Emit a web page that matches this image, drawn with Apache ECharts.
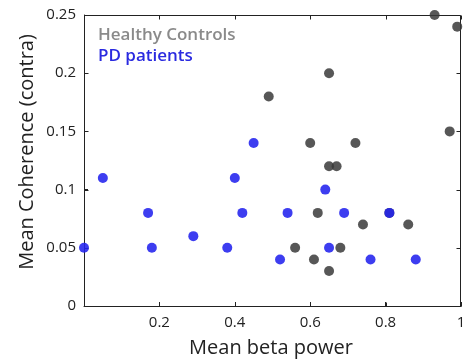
<!DOCTYPE html>
<html><head><meta charset="utf-8">
<script src="https://cdn.jsdelivr.net/npm/echarts@6/dist/echarts.min.js"></script>
<style>html,body{margin:0;padding:0;background:#fff}#c{width:463px;height:362px}</style>
</head><body><div id="c"></div>
<script>
const xTicks = [0.2, 0.4, 0.6, 0.8, 1];
const yTicks = [0, 0.05, 0.1, 0.15, 0.2, 0.25];
const hcBeta = [0.49, 0.65, 0.93, 0.99, 0.97, 0.60, 0.72, 0.65, 0.67, 0.62, 0.74, 0.86, 0.81, 0.56, 0.68, 0.61, 0.65];
const hcCoh  = [0.18, 0.20, 0.25, 0.24, 0.15, 0.14, 0.14, 0.12, 0.12, 0.08, 0.07, 0.07, 0.08, 0.05, 0.05, 0.04, 0.03];
const pdBeta = [0.00, 0.05, 0.17, 0.18, 0.29, 0.38, 0.40, 0.42, 0.45, 0.52, 0.54, 0.64, 0.65, 0.69, 0.76, 0.81, 0.88];
const pdCoh  = [0.05, 0.11, 0.08, 0.05, 0.06, 0.05, 0.11, 0.08, 0.14, 0.04, 0.08, 0.10, 0.05, 0.08, 0.04, 0.08, 0.04];
const seriesNames = ['Healthy Controls', 'PD patients'];
const xTitle = 'Mean beta power';
const yTitle = 'Mean Coherence (contra)';

const zip = (a, b) => a.map((v, i) => [v, b[i]]);
const font = '"Open Sans", "DejaVu Sans", sans-serif';
const xMin = 0, xMax = 1, yMin = 0, yMax = 0.25;
const axLine = {show: true, onZero: false, lineStyle: {color: '#222', width: 1}};
const ticks = {show: true, inside: true, length: 4, lineStyle: {color: '#222', width: 1}};

// Frame (box) and inward ticks on all four sides, positioned through the axes' scales
function renderFrame(params, api) {
  const bl = api.coord([xMin, yMin]), tr = api.coord([xMax, yMax]);
  const L = Math.round(bl[0]) + 0.5, B = Math.round(bl[1]) + 0.5;
  const R = Math.round(tr[0]) - 0.5, T = Math.round(tr[1]) + 0.5;
  const st = {stroke: '#222', lineWidth: 1, fill: null};
  const kids = [{type: 'polyline', shape: {points: [[L, B], [L, T], [R, T], [R, B], [L, B]]}, style: st}];
  xTicks.forEach(v => {
    const x = Math.round(api.coord([v, yMin])[0]) + 0.5;
    kids.push({type: 'line', shape: {x1: x, y1: B, x2: x, y2: B - 4}, style: st});
    kids.push({type: 'line', shape: {x1: x, y1: T, x2: x, y2: T + 4}, style: st});
  });
  yTicks.forEach(v => {
    const y = Math.round(api.coord([xMin, v])[1]) + 0.5;
    kids.push({type: 'line', shape: {x1: L, y1: y, x2: L + 4, y2: y}, style: st});
    kids.push({type: 'line', shape: {x1: R, y1: y, x2: R - 4, y2: y}, style: st});
  });
  return {type: 'group', children: kids};
}

const chart = echarts.init(document.getElementById('c'));
chart.setOption({
  animation: false,
  grid: {left: 84, right: 2, top: 15, bottom: 56, outerBoundsMode: 'none', containLabel: false},
  xAxis: {
    type: 'value', min: xMin, max: xMax, interval: 0.2,
    axisLine: axLine, axisTick: ticks, splitLine: {show: false},
    axisLabel: {color: '#222', fontSize: 15, fontFamily: font, margin: 9, hideOverlap: false,
      formatter: v => xTicks.includes(Math.round(v * 10) / 10) ? String(Math.round(v * 10) / 10) : ''}
  },
  yAxis: {
    type: 'value', min: yMin, max: yMax, interval: 0.05,
    axisLine: axLine, axisTick: ticks, splitLine: {show: false},
    axisLabel: {color: '#222', fontSize: 15, fontFamily: font, margin: 8,
      formatter: v => String(+v.toFixed(2))}
  },
  series: [{
    type: 'custom', silent: true, z: 1, clip: false,
    renderItem: renderFrame, data: [[xMin, yMin]]
  }, {
    name: seriesNames[0], type: 'scatter', symbolSize: 10, clip: false, z: 3,
    itemStyle: {color: '#3a3a3a', opacity: 0.85},
    data: zip(hcBeta, hcCoh)
  }, {
    name: seriesNames[1], type: 'scatter', symbolSize: 10, clip: false, z: 4,
    itemStyle: {color: '#2222ee', opacity: 0.88},
    data: zip(pdBeta, pdCoh)
  }],
  graphic: [
    {type: 'text', left: 98, top: 27, style: {text: seriesNames[0], fill: '#8a8a8a', font: '600 17px ' + font}},
    {type: 'text', left: 98, top: 48, style: {text: seriesNames[1], fill: '#2a2ae0', font: '600 17px ' + font}},
    {type: 'text', x: 271, y: 348.5, style: {text: xTitle, fill: '#222', font: '20px ' + font, align: 'center', verticalAlign: 'middle'}},
    {type: 'text', x: 27, y: 152, rotation: Math.PI / 2, style: {text: yTitle, fill: '#222', font: '20px ' + font, align: 'center', verticalAlign: 'middle'}}
  ]
});
</script></body></html>
